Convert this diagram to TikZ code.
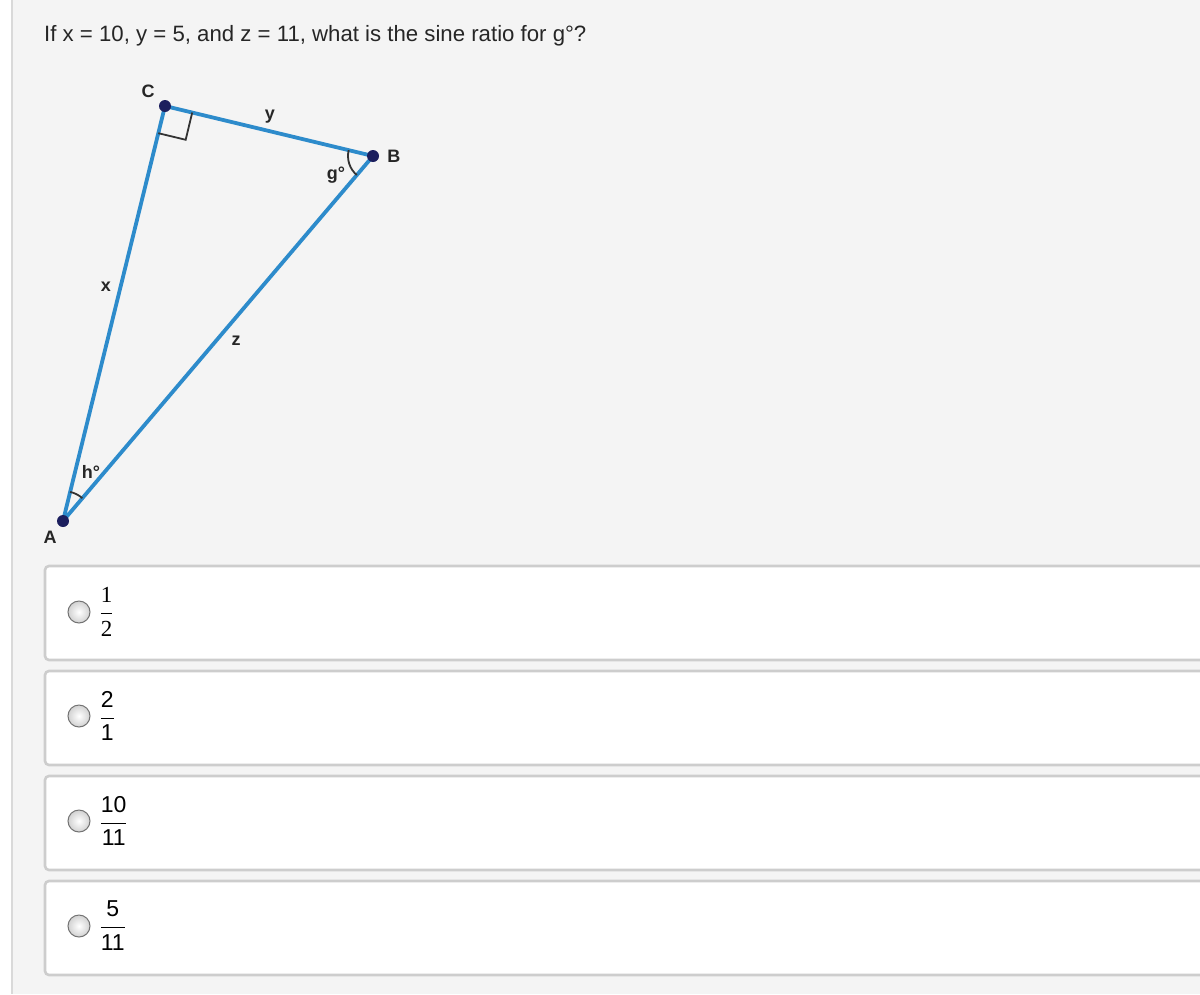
\documentclass[tikz,border=0pt]{standalone}
\usepackage{fontspec}
\setmainfont{Liberation Sans}
\newfontfamily\serf{Liberation Serif}
\usetikzlibrary{positioning, calc, angles}

\definecolor{pagebg}{HTML}{F4F4F4}
\definecolor{sideblue}{HTML}{2D8BCB}
\definecolor{dotnavy}{HTML}{1C1F5E}
\definecolor{boxgray}{HTML}{CDCDCD}

\newcommand{\frc}[2]{$\displaystyle\frac{\mbox{#1}}{\mbox{#2}}$}

\begin{document}
\begin{tikzpicture}[x=1pt, y=-1pt,
	side/.style={draw=sideblue, line width=3.8pt},
	dot/.style={circle, fill=dotnavy, inner sep=0pt, minimum size=12pt},
	lbl/.style={font=\fontsize{18}{20}\selectfont\bfseries, text=black!85, inner sep=0pt},
	answer/.style={draw=boxgray, fill=white, line width=2.6pt, rounded corners=4pt},
	radio/.style={circle, draw=black!55, line width=1pt, inner color=white, outer color=black!18, minimum size=22pt, inner sep=0pt},
	fracnode/.style={font=\fontsize{23}{26}\selectfont, inner sep=0pt, anchor=west}]
	\useasboundingbox (0,0) rectangle (1200,994);
	\fill[white] (0,0) rectangle (12,994);
	\fill[pagebg] (12,0) rectangle (1200,994);
	\draw[black!15, line width=1.2pt] (12,0) -- (12,994);

	\node[anchor=base west, inner sep=0pt, font=\fontsize{22.2}{26}\selectfont, text=black!85] (question) at (44,41) {If x = 10, y = 5, and z = 11, what is the sine ratio for g°?};

	% triangle
	\coordinate (A) at (63,521);
	\coordinate (B) at (373,156);
	\coordinate (C) at (165,106);
	\draw[side, line join=round] (A) -- (C) -- (B) -- cycle;
	\draw[black!80, line width=1.8pt] ($(C)!28pt!(B)$) -- ($($(C)!28pt!(B)$)!28pt!90:(C)$) -- ($(C)!28pt!(A)$);
	\pic[draw=black!80, line width=1.8pt, angle radius=25pt] {angle = C--B--A};
	\pic[draw=black!80, line width=1.8pt, angle radius=30pt] {angle = B--A--C};
	\node[dot] (dA) at (A) {};
	\node[dot] (dB) at (B) {};
	\node[dot] (dC) at (C) {};

	\node[lbl] (lC) at (148,91) {C};
	\node[lbl, right=8pt of dB] (lB) {B};
	\node[lbl] (ly) at (270,117) {y};
	\node[lbl] (lg) at (336,175) {g°};
	\node[lbl] (lx) at (106,287) {x};
	\node[lbl] (lz) at (236,341) {z};
	\node[lbl] (lh) at (91,472) {h°};
	\node[lbl] (lA) at (50,537) {A};

	% answers
	\draw[answer] (45,566) rectangle (1215,660);
	\draw[answer] (45,671) rectangle (1215,765);
	\draw[answer] (45,776) rectangle (1215,870);
	\draw[answer] (45,881) rectangle (1215,975);
	\node[radio] (r1) at (79,612) {};
	\node[radio] (r2) at (79,716) {};
	\node[radio] (r3) at (79,821) {};
	\node[radio] (r4) at (79,926) {};
	\node[fracnode, right=9pt of r1] (f1) {\serf\frc{1}{2}};
	\node[fracnode, right=9pt of r2] (f2) {\frc{2}{1}};
	\node[fracnode, right=9pt of r3] (f3) {\frc{10}{11}};
	\node[fracnode, right=9pt of r4] (f4) {\frc{5}{11}};
\end{tikzpicture}
\end{document}
